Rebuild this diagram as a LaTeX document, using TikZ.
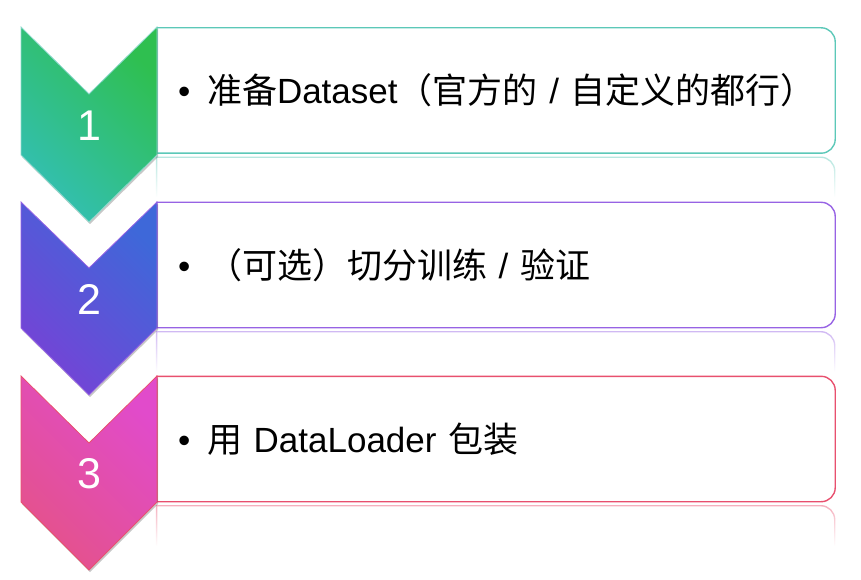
\documentclass[tikz,border=0pt]{standalone}
\usepackage{fontspec}
\setmainfont{Liberation Sans}
\newfontfamily\cjk{Noto Sans CJK SC}
\usetikzlibrary{fadings, shadows}

\newcommand{\zh}[1]{{\cjk #1}}
\newcommand{\itm}{\makebox[29pt][l]{\textbullet}}

\definecolor{grnTop}{HTML}{2FBF50}
\definecolor{grnBot}{HTML}{33BFB3}
\definecolor{grnLine}{HTML}{5CC8B8}
\definecolor{purTop}{HTML}{3E68D9}
\definecolor{purBot}{HTML}{7543D6}
\definecolor{purLine}{HTML}{9763E4}
\definecolor{pnkTop}{HTML}{E14BCB}
\definecolor{pnkBot}{HTML}{E4528B}
\definecolor{pnkLine}{HTML}{E8506E}

\tikzfading[name=reflfade, top color=transparent!55, bottom color=transparent!100]

\begin{document}
\begin{tikzpicture}[x=1pt, y=1pt]
\tikzset{
  chev/.style={line width=0.8pt,
    drop shadow={shadow xshift=1pt, shadow yshift=-2pt, opacity=0.22, fill=black}},
  chevone/.style  ={chev, draw=grnLine!70, top color=grnTop, bottom color=grnBot, shading angle=-45},
  chevtwo/.style  ={chev, draw=purLine,    top color=purTop, bottom color=purBot, shading angle=-45},
  chevthree/.style={chev, draw=pnkLine,    top color=pnkTop, bottom color=pnkBot, shading angle=-45},
  num/.style={text=white, font=\fontsize{43}{43}\selectfont, inner sep=0pt},
  box/.style={
    rectangle, minimum width=678pt, minimum height=125pt,
    text width=636pt, inner xsep=21pt, align=left,
    font=\fontsize{35}{40}\selectfont
  },
  frame/.style={line width=1.4pt},
  refl/.style={line width=1.4pt, path fading=reflfade},
}

\useasboundingbox (0,0) rectangle (861,579);

%% ---- BOXES ----
\node[box] (b1) at (496,488.5) {\mbox{\itm\zh{准备}Dataset\zh{（官方的} / \zh{自定义的都行）}}};
\node[box] (b2) at (496,314)   {\mbox{\itm\zh{（可选）切分训练} / \zh{验证}}};
\node[box] (b3) at (496,140)   {\mbox{\itm\zh{用} DataLoader \zh{包装}}};

\draw[frame, grnLine] (b1.north west) -- ([xshift=-14pt]b1.north east)
  arc[start angle=90, end angle=0, radius=14pt] -- ([yshift=14pt]b1.south east)
  arc[start angle=0, end angle=-90, radius=14pt] -- (b1.south west) -- cycle;
\draw[frame, purLine] (b2.north west) -- ([xshift=-14pt]b2.north east)
  arc[start angle=90, end angle=0, radius=14pt] -- ([yshift=14pt]b2.south east)
  arc[start angle=0, end angle=-90, radius=14pt] -- (b2.south west) -- cycle;
\draw[frame, pnkLine] (b3.north west) -- ([xshift=-14pt]b3.north east)
  arc[start angle=90, end angle=0, radius=14pt] -- ([yshift=14pt]b3.south east)
  arc[start angle=0, end angle=-90, radius=14pt] -- (b3.south west) -- cycle;

%% reflections under the boxes
\draw[refl, grnLine] ([yshift=-44pt]b1.south west) -- ([yshift=-4pt]b1.south west)
  -- ([xshift=-14pt, yshift=-4pt]b1.south east)
  arc[start angle=90, end angle=0, radius=14pt] -- ([yshift=-44pt]b1.south east);
\draw[refl, purLine] ([yshift=-44pt]b2.south west) -- ([yshift=-4pt]b2.south west)
  -- ([xshift=-14pt, yshift=-4pt]b2.south east)
  arc[start angle=90, end angle=0, radius=14pt] -- ([yshift=-44pt]b2.south east);
\draw[refl, pnkLine] ([yshift=-44pt]b3.south west) -- ([yshift=-4pt]b3.south west)
  -- ([xshift=-14pt, yshift=-4pt]b3.south east)
  arc[start angle=90, end angle=0, radius=14pt] -- ([yshift=-44pt]b3.south east);

%% ---- CHEVRONS ----
\path[chevone]   (21,552) -- (89,485) -- (157,552) -- (157,424) -- (89,357) -- (21,424) -- cycle;
\path[chevtwo]   (21,377) -- (89,311) -- (157,377) -- (157,251) -- (89,184) -- (21,251) -- cycle;
\path[chevthree] (21,203) -- (89,136) -- (157,203) -- (157,77)  -- (89,9)   -- (21,77)  -- cycle;

\node[num] (n1) at (89,453) {1};
\node[num] (n2) at (89,280) {2};
\node[num] (n3) at (89,105) {3};

\end{tikzpicture}
\end{document}
